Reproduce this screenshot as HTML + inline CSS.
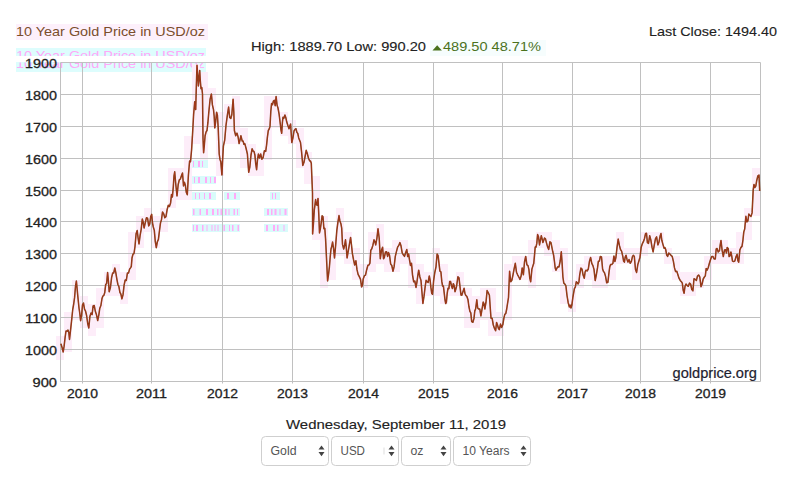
<!DOCTYPE html>
<html><head><meta charset="utf-8"><title>10 Year Gold Price in USD/oz</title>
<style>html,body{margin:0;padding:0;background:#fff;width:795px;height:479px;overflow:hidden}
svg{display:block;font-family:"Liberation Sans",sans-serif}</style></head>
<body><svg width="795" height="479" viewBox="0 0 795 479" font-family="Liberation Sans, sans-serif"><defs><clipPath id="gc1"><rect x="0" y="48" width="300" height="8"/></clipPath><clipPath id="gc2"><rect x="0" y="62.5" width="300" height="8"/></clipPath></defs>
<rect x="16" y="48" width="190" height="8" fill="#ddfdfd"/>
<rect x="16" y="62" width="190" height="10" fill="#ddfdfd"/>
<g clip-path="url(#gc1)"><text x="16" y="59.6" font-size="13" fill="#ffa8f8" textLength="189" lengthAdjust="spacingAndGlyphs">10 Year Gold Price in USD/oz</text></g>
<g clip-path="url(#gc2)"><text x="16" y="68.2" font-size="13" fill="#ffa8f8" textLength="189" lengthAdjust="spacingAndGlyphs">10 Year Gold Price in USD/oz</text></g>
<path d="M56 336h8v8h-8zM56 344h8v8h-8zM56 352h8v8h-8zM64 312h8v8h-8zM64 320h8v8h-8zM64 328h8v8h-8zM64 336h8v8h-8zM64 344h8v8h-8zM72 280h8v8h-8zM72 288h8v8h-8zM72 296h8v8h-8zM72 304h8v8h-8zM72 312h8v8h-8zM80 296h8v8h-8zM80 304h8v8h-8zM80 312h8v8h-8zM80 320h8v8h-8zM88 304h8v8h-8zM88 312h8v8h-8zM88 320h8v8h-8zM88 328h8v8h-8zM96 288h8v8h-8zM96 296h8v8h-8zM96 304h8v8h-8zM96 312h8v8h-8zM96 320h8v8h-8zM104 272h8v8h-8zM104 280h8v8h-8zM104 288h8v8h-8zM112 264h8v8h-8zM112 272h8v8h-8zM112 280h8v8h-8zM112 288h8v8h-8zM120 272h8v8h-8zM120 280h8v8h-8zM120 288h8v8h-8zM120 296h8v8h-8zM128 232h8v8h-8zM128 240h8v8h-8zM128 248h8v8h-8zM128 256h8v8h-8zM128 264h8v8h-8zM128 272h8v8h-8zM136 216h8v8h-8zM136 224h8v8h-8zM136 232h8v8h-8zM136 240h8v8h-8zM144 208h8v8h-8zM144 216h8v8h-8zM144 224h8v8h-8zM152 216h8v8h-8zM152 224h8v8h-8zM152 232h8v8h-8zM152 240h8v8h-8zM160 208h8v8h-8zM160 216h8v8h-8zM160 224h8v8h-8zM168 168h8v8h-8zM168 176h8v8h-8zM168 184h8v8h-8zM168 192h8v8h-8zM168 200h8v8h-8zM176 168h8v8h-8zM176 176h8v8h-8zM176 184h8v8h-8zM176 192h8v8h-8zM184 136h8v8h-8zM184 144h8v8h-8zM184 152h8v8h-8zM184 160h8v8h-8zM184 168h8v8h-8zM184 176h8v8h-8zM184 184h8v8h-8zM184 192h8v8h-8zM192 64h8v8h-8zM192 72h8v8h-8zM192 80h8v8h-8zM192 88h8v8h-8zM192 96h8v8h-8zM192 104h8v8h-8zM192 112h8v8h-8zM192 120h8v8h-8zM192 128h8v8h-8zM192 136h8v8h-8zM200 72h8v8h-8zM200 80h8v8h-8zM200 88h8v8h-8zM200 96h8v8h-8zM200 104h8v8h-8zM200 112h8v8h-8zM200 120h8v8h-8zM200 128h8v8h-8zM200 136h8v8h-8zM200 144h8v8h-8zM200 152h8v8h-8zM208 88h8v8h-8zM208 96h8v8h-8zM208 104h8v8h-8zM208 112h8v8h-8zM208 120h8v8h-8zM216 112h8v8h-8zM216 120h8v8h-8zM216 128h8v8h-8zM216 136h8v8h-8zM216 144h8v8h-8zM216 152h8v8h-8zM216 160h8v8h-8zM216 168h8v8h-8zM224 104h8v8h-8zM224 112h8v8h-8zM224 120h8v8h-8zM224 128h8v8h-8zM224 136h8v8h-8zM232 96h8v8h-8zM232 104h8v8h-8zM232 112h8v8h-8zM232 120h8v8h-8zM232 128h8v8h-8zM232 136h8v8h-8zM240 128h8v8h-8zM240 136h8v8h-8zM240 144h8v8h-8zM240 152h8v8h-8zM240 160h8v8h-8zM248 144h8v8h-8zM248 152h8v8h-8zM248 160h8v8h-8zM248 168h8v8h-8zM256 152h8v8h-8zM256 160h8v8h-8zM256 168h8v8h-8zM264 96h8v8h-8zM264 104h8v8h-8zM264 112h8v8h-8zM264 120h8v8h-8zM264 128h8v8h-8zM264 136h8v8h-8zM264 144h8v8h-8zM264 152h8v8h-8zM272 96h8v8h-8zM272 104h8v8h-8zM272 112h8v8h-8zM272 120h8v8h-8zM280 112h8v8h-8zM280 120h8v8h-8zM280 128h8v8h-8zM288 120h8v8h-8zM288 128h8v8h-8zM288 136h8v8h-8zM296 128h8v8h-8zM296 136h8v8h-8zM296 144h8v8h-8zM296 152h8v8h-8zM296 160h8v8h-8zM304 152h8v8h-8zM304 160h8v8h-8zM304 168h8v8h-8zM304 176h8v8h-8zM312 176h8v8h-8zM312 184h8v8h-8zM312 192h8v8h-8zM312 200h8v8h-8zM312 208h8v8h-8zM312 216h8v8h-8zM312 224h8v8h-8zM312 232h8v8h-8zM320 216h8v8h-8zM320 224h8v8h-8zM320 232h8v8h-8zM320 240h8v8h-8zM320 248h8v8h-8zM320 256h8v8h-8zM320 264h8v8h-8zM320 272h8v8h-8zM320 280h8v8h-8zM328 240h8v8h-8zM328 248h8v8h-8zM328 256h8v8h-8zM328 264h8v8h-8zM328 272h8v8h-8zM336 208h8v8h-8zM336 216h8v8h-8zM336 224h8v8h-8zM336 232h8v8h-8zM336 240h8v8h-8zM336 248h8v8h-8zM344 232h8v8h-8zM344 240h8v8h-8zM344 248h8v8h-8zM344 256h8v8h-8zM352 248h8v8h-8zM352 256h8v8h-8zM352 264h8v8h-8zM352 272h8v8h-8zM360 264h8v8h-8zM360 272h8v8h-8zM360 280h8v8h-8zM368 232h8v8h-8zM368 240h8v8h-8zM368 248h8v8h-8zM368 256h8v8h-8zM368 264h8v8h-8zM376 224h8v8h-8zM376 232h8v8h-8zM376 240h8v8h-8zM376 248h8v8h-8zM376 256h8v8h-8zM384 248h8v8h-8zM384 256h8v8h-8zM384 264h8v8h-8zM392 240h8v8h-8zM392 248h8v8h-8zM392 256h8v8h-8zM392 264h8v8h-8zM400 240h8v8h-8zM400 248h8v8h-8zM400 256h8v8h-8zM408 248h8v8h-8zM408 256h8v8h-8zM408 264h8v8h-8zM408 272h8v8h-8zM408 280h8v8h-8zM416 264h8v8h-8zM416 272h8v8h-8zM416 280h8v8h-8zM416 288h8v8h-8zM416 296h8v8h-8zM424 272h8v8h-8zM424 280h8v8h-8zM424 288h8v8h-8zM432 248h8v8h-8zM432 256h8v8h-8zM432 264h8v8h-8zM432 272h8v8h-8zM432 280h8v8h-8zM432 288h8v8h-8zM440 264h8v8h-8zM440 272h8v8h-8zM440 280h8v8h-8zM440 288h8v8h-8zM440 296h8v8h-8zM448 280h8v8h-8zM448 288h8v8h-8zM456 272h8v8h-8zM456 280h8v8h-8zM456 288h8v8h-8zM464 288h8v8h-8zM464 296h8v8h-8zM464 304h8v8h-8zM464 312h8v8h-8zM464 320h8v8h-8zM472 296h8v8h-8zM472 304h8v8h-8zM472 312h8v8h-8zM472 320h8v8h-8zM480 288h8v8h-8zM480 296h8v8h-8zM480 304h8v8h-8zM480 312h8v8h-8zM488 288h8v8h-8zM488 296h8v8h-8zM488 304h8v8h-8zM488 312h8v8h-8zM488 320h8v8h-8zM488 328h8v8h-8zM496 312h8v8h-8zM496 320h8v8h-8zM496 328h8v8h-8zM504 264h8v8h-8zM504 272h8v8h-8zM504 280h8v8h-8zM504 288h8v8h-8zM504 296h8v8h-8zM504 304h8v8h-8zM504 312h8v8h-8zM512 256h8v8h-8zM512 264h8v8h-8zM512 272h8v8h-8zM520 256h8v8h-8zM520 264h8v8h-8zM520 272h8v8h-8zM528 240h8v8h-8zM528 248h8v8h-8zM528 256h8v8h-8zM528 264h8v8h-8zM528 272h8v8h-8zM528 280h8v8h-8zM536 232h8v8h-8zM536 240h8v8h-8zM544 232h8v8h-8zM544 240h8v8h-8zM544 248h8v8h-8zM552 240h8v8h-8zM552 248h8v8h-8zM552 256h8v8h-8zM552 264h8v8h-8zM560 248h8v8h-8zM560 256h8v8h-8zM560 264h8v8h-8zM560 272h8v8h-8zM560 280h8v8h-8zM560 288h8v8h-8zM560 296h8v8h-8zM568 280h8v8h-8zM568 288h8v8h-8zM568 296h8v8h-8zM568 304h8v8h-8zM576 264h8v8h-8zM576 272h8v8h-8zM576 280h8v8h-8zM584 256h8v8h-8zM584 264h8v8h-8zM584 272h8v8h-8zM592 256h8v8h-8zM592 264h8v8h-8zM592 272h8v8h-8zM592 280h8v8h-8zM600 256h8v8h-8zM600 264h8v8h-8zM600 272h8v8h-8zM600 280h8v8h-8zM608 256h8v8h-8zM608 264h8v8h-8zM608 272h8v8h-8zM616 232h8v8h-8zM616 240h8v8h-8zM616 248h8v8h-8zM616 256h8v8h-8zM624 248h8v8h-8zM624 256h8v8h-8zM632 248h8v8h-8zM632 256h8v8h-8zM632 264h8v8h-8zM632 272h8v8h-8zM640 232h8v8h-8zM640 240h8v8h-8zM640 248h8v8h-8zM648 232h8v8h-8zM648 240h8v8h-8zM656 232h8v8h-8zM656 240h8v8h-8zM664 248h8v8h-8zM664 256h8v8h-8zM672 256h8v8h-8zM672 264h8v8h-8zM672 272h8v8h-8zM680 272h8v8h-8zM680 280h8v8h-8zM680 288h8v8h-8zM688 272h8v8h-8zM688 280h8v8h-8zM688 288h8v8h-8zM696 272h8v8h-8zM696 280h8v8h-8zM704 256h8v8h-8zM704 264h8v8h-8zM704 272h8v8h-8zM712 240h8v8h-8zM712 248h8v8h-8zM712 256h8v8h-8zM720 240h8v8h-8zM720 248h8v8h-8zM720 256h8v8h-8zM728 248h8v8h-8zM728 256h8v8h-8zM736 232h8v8h-8zM736 240h8v8h-8zM736 248h8v8h-8zM736 256h8v8h-8zM744 208h8v8h-8zM744 216h8v8h-8zM744 224h8v8h-8zM744 232h8v8h-8zM752 168h8v8h-8zM752 176h8v8h-8zM752 184h8v8h-8zM752 192h8v8h-8zM752 200h8v8h-8zM752 208h8v8h-8z" fill="#fdedf9"/>
<rect x="16" y="24" width="192" height="16" fill="#fdf0fb"/>
<rect x="192" y="160" width="16" height="8" fill="#d9fbfb"/>
<path d="M193 161h1v6h-1zM198 161h2v6h-2zM202 161h1v6h-1z" fill="#ffaaf7"/>
<rect x="192" y="176" width="24" height="8" fill="#d9fbfb"/>
<path d="M194 177h1v6h-1zM198 177h2v6h-2zM205 177h2v6h-2zM210 177h1v6h-1zM214 177h2v6h-2z" fill="#ffaaf7"/>
<rect x="192" y="192" width="24" height="8" fill="#d9fbfb"/>
<path d="M195 193h1v6h-1zM199 193h1v6h-1zM204 193h1v6h-1zM209 193h2v6h-2z" fill="#ffaaf7"/>
<rect x="224" y="192" width="16" height="8" fill="#d9fbfb"/>
<path d="M227 193h2v6h-2zM234 193h2v6h-2z" fill="#ffaaf7"/>
<rect x="270" y="192" width="10" height="8" fill="#d9fbfb"/>
<path d="M272 193h1v6h-1zM275 193h1v6h-1z" fill="#ffaaf7"/>
<rect x="192" y="208" width="48" height="8" fill="#d9fbfb"/>
<path d="M193 209h1.5v6h-1.5zM199.5 209h1.5v6h-1.5zM206.0 209h2v6h-2zM212.0 209h2v6h-2zM217.0 209h1.5v6h-1.5zM220.5 209h1.5v6h-1.5zM225.0 209h1.5v6h-1.5zM228.5 209h1v6h-1zM233.5 209h1.5v6h-1.5zM237.0 209h1v6h-1z" fill="#ffaaf7"/>
<rect x="264" y="208" width="24" height="8" fill="#d9fbfb"/>
<path d="M267 209h2v6h-2zM271 209h1.5v6h-1.5zM274.5 209h2v6h-2zM279.5 209h1v6h-1zM284.5 209h2v6h-2z" fill="#ffaaf7"/>
<rect x="192" y="224" width="48" height="8" fill="#d9fbfb"/>
<path d="M193 225h1v6h-1zM196 225h2v6h-2zM202 225h1.5v6h-1.5zM206.5 225h1v6h-1zM211.5 225h1v6h-1zM214.5 225h1v6h-1zM217.5 225h1v6h-1zM223.5 225h1.5v6h-1.5zM229.0 225h1v6h-1zM232.0 225h1.5v6h-1.5zM237.5 225h1.5v6h-1.5z" fill="#ffaaf7"/>
<rect x="264" y="224" width="24" height="8" fill="#d9fbfb"/>
<path d="M266 225h2v6h-2zM273 225h2v6h-2zM277 225h1.5v6h-1.5zM283.5 225h1v6h-1z" fill="#ffaaf7"/>
<path d="M60.5 62.5H760.5 M60.5 94.5H760.5 M60.5 126.5H760.5 M60.5 158.5H760.5 M60.5 190.5H760.5 M60.5 221.5H760.5 M60.5 253.5H760.5 M60.5 285.5H760.5 M60.5 317.5H760.5 M60.5 349.5H760.5 M60.5 381.5H760.5 M82.5 62.5V383.5 M151.5 62.5V383.5 M222.5 62.5V383.5 M292.5 62.5V383.5 M363.5 62.5V383.5 M433.5 62.5V383.5 M502.5 62.5V383.5 M572.5 62.5V383.5 M640.5 62.5V383.5 M710.5 62.5V383.5 M60.5 62.5V381.5 M760.5 62.5V381.5" stroke="#c0c0c0" stroke-width="1" fill="none"/>
<path d="M60.9 343.7 L62.0 347.2 L63.2 352.0 L64.1 346.2 L65.1 337.5 L66.0 331.0 L67.0 331.3 L68.0 330.0 L68.8 332.5 L69.5 339.5 L70.5 330.6 L71.6 320.7 L72.7 309.7 L73.7 304.0 L74.6 297.4 L75.5 286.2 L76.4 281.0 L77.7 295.1 L79.0 308.0 L79.8 313.4 L80.6 320.7 L81.6 315.2 L82.5 304.9 L83.5 303.0 L84.5 309.1 L85.5 311.0 L86.6 315.5 L87.7 323.5 L88.8 328.0 L89.9 316.4 L91.0 313.0 L92.1 314.7 L93.1 305.9 L94.2 305.5 L95.4 311.6 L96.5 314.8 L97.7 320.5 L98.8 315.1 L99.8 308.2 L100.9 305.5 L102.0 298.5 L102.9 295.9 L103.8 295.6 L104.7 292.8 L105.7 284.5 L106.6 283.5 L107.6 272.6 L108.4 280.9 L109.2 291.8 L110.4 287.6 L111.6 277.6 L112.7 272.9 L113.7 273.0 L114.8 268.0 L115.8 272.7 L116.9 279.3 L117.9 284.5 L118.9 286.6 L119.9 292.3 L120.9 294.2 L121.9 298.9 L123.0 294.9 L124.1 285.1 L125.2 280.0 L126.3 280.5 L127.4 273.1 L128.5 273.1 L129.6 269.1 L130.7 267.6 L131.3 266.4 L132.0 258.0 L133.0 254.1 L134.0 253.5 L135.0 246.5 L136.1 233.7 L137.2 230.5 L138.1 238.0 L139.0 244.0 L140.1 235.4 L141.2 229.3 L142.3 219.0 L143.2 222.3 L144.1 228.0 L145.2 223.0 L146.4 217.8 L147.6 218.3 L148.7 225.9 L149.7 224.1 L150.7 216.6 L151.7 214.4 L152.5 223.0 L153.3 227.0 L154.3 230.4 L155.3 241.7 L156.3 247.7 L157.4 241.7 L158.4 239.4 L159.5 230.5 L160.5 222.9 L161.5 219.6 L162.5 212.0 L163.7 213.8 L164.8 217.8 L165.9 216.8 L167.1 209.8 L168.3 205.2 L169.4 206.5 L170.6 202.9 L171.5 194.4 L172.4 197.0 L173.3 186.8 L174.0 175.8 L174.7 171.8 L175.8 184.5 L177.0 196.0 L178.2 184.5 L179.3 179.9 L180.4 179.0 L181.6 175.3 L182.5 173.0 L183.5 185.9 L184.4 182.2 L185.4 185.5 L186.3 192.3 L187.3 194.7 L188.4 175.2 L189.6 161.0 L190.5 161.8 L191.6 149.7 L192.6 133.0 L193.6 114.8 L194.7 101.8 L195.7 109.6 L196.3 87.8 L197.0 65.2 L197.7 75.0 L198.4 86.0 L199.7 70.4 L200.3 80.6 L201.0 88.7 L201.8 87.5 L202.5 94.0 L203.0 138.3 L203.6 152.7 L204.3 145.7 L205.1 135.7 L206.1 131.9 L207.0 130.5 L207.9 122.7 L208.8 112.2 L210.1 99.3 L211.4 94.0 L212.4 104.9 L213.5 109.6 L214.2 116.5 L214.8 127.9 L215.7 121.3 L216.6 112.2 L217.4 115.3 L218.2 127.9 L219.2 154.0 L220.0 159.4 L220.8 161.8 L221.9 174.9 L222.7 158.5 L223.4 146.2 L224.7 140.1 L226.0 125.3 L227.3 115.7 L228.6 107.0 L229.7 117.4 L230.8 118.5 L231.8 114.8 L233.1 99.2 L233.8 111.7 L234.4 130.5 L235.7 135.7 L237.0 133.1 L238.1 137.0 L239.1 143.6 L240.0 140.0 L240.9 135.7 L242.2 141.0 L243.1 141.1 L243.9 144.3 L244.8 143.6 L246.1 148.5 L247.4 154.0 L248.7 172.3 L249.8 167.2 L251.0 155.0 L252.1 148.8 L253.1 151.1 L254.0 151.4 L254.9 155.0 L255.7 163.7 L256.6 169.7 L257.5 159.7 L258.4 154.0 L259.5 158.0 L260.7 153.9 L261.8 159.2 L263.1 157.7 L264.4 150.7 L265.7 151.4 L266.6 144.8 L267.4 137.1 L268.3 130.5 L269.1 129.2 L270.0 126.4 L270.8 111.5 L271.6 103.4 L272.5 104.7 L273.4 101.0 L274.3 100.3 L275.2 105.7 L276.1 96.5 L277.1 105.3 L278.0 108.0 L279.1 114.1 L280.3 124.0 L281.0 130.2 L281.7 133.3 L282.4 122.5 L283.0 117.2 L283.9 118.1 L284.9 114.9 L285.8 117.5 L286.7 121.8 L287.9 125.6 L289.0 128.7 L289.8 126.0 L290.6 124.0 L291.8 142.5 L292.9 138.1 L294.0 131.0 L295.0 129.4 L296.0 128.7 L296.9 132.4 L297.8 133.5 L298.7 137.9 L299.6 140.2 L300.5 142.5 L301.6 152.2 L302.8 165.5 L304.0 162.3 L305.1 156.3 L306.2 150.3 L307.4 154.0 L308.5 158.2 L309.7 160.9 L310.5 161.0 L311.3 163.2 L312.5 193.0 L312.6 234.0 L313.5 222.8 L314.3 209.9 L315.0 204.7 L315.6 199.5 L316.4 204.6 L317.2 205.3 L318.0 198.4 L318.8 214.8 L319.5 232.9 L320.3 229.2 L321.1 223.7 L322.1 215.8 L323.0 216.8 L323.9 228.7 L324.8 228.3 L325.6 239.4 L326.4 255.9 L327.6 281.0 L328.5 274.6 L329.4 267.0 L330.2 257.0 L331.0 249.0 L331.8 246.1 L332.6 242.0 L333.6 249.0 L334.5 258.0 L335.6 245.9 L336.8 230.6 L337.9 222.4 L339.0 215.6 L339.9 220.9 L340.9 223.7 L341.7 228.2 L342.5 244.4 L343.7 249.0 L344.6 245.3 L345.5 239.8 L346.3 247.6 L347.1 258.0 L348.2 251.4 L349.4 244.4 L350.6 237.5 L351.5 245.0 L352.4 253.6 L353.5 259.5 L354.7 265.0 L355.9 260.8 L357.0 269.7 L358.1 274.3 L359.3 276.6 L360.5 279.3 L361.6 286.9 L362.4 285.7 L363.2 278.9 L364.4 275.7 L365.5 275.1 L366.7 269.7 L367.9 265.3 L369.0 265.0 L369.9 263.2 L370.8 250.2 L371.7 249.0 L372.9 245.2 L374.0 239.8 L374.9 241.5 L375.7 244.9 L376.9 238.3 L378.0 228.8 L379.2 238.0 L380.3 258.7 L381.5 250.3 L382.6 247.2 L383.5 258.8 L384.3 257.5 L385.5 252.0 L386.6 251.8 L387.6 256.4 L388.5 252.4 L389.5 255.2 L390.7 264.1 L391.8 265.5 L393.0 271.3 L394.1 266.7 L395.3 256.4 L396.5 251.4 L397.6 247.2 L398.8 245.4 L399.9 242.6 L401.0 245.8 L402.2 252.9 L403.4 255.0 L404.5 256.4 L405.6 252.7 L406.8 249.5 L407.7 256.6 L408.6 253.9 L409.5 259.8 L410.5 265.5 L411.5 263.2 L412.5 274.8 L413.7 281.8 L414.8 281.0 L416.0 287.4 L416.9 282.3 L417.8 275.6 L418.7 270.2 L419.9 277.0 L421.0 280.5 L421.9 291.5 L422.9 303.5 L424.0 296.4 L425.2 286.3 L426.1 280.3 L427.0 281.7 L428.1 282.5 L429.3 276.0 L430.1 280.2 L430.9 287.4 L431.7 293.2 L432.5 294.3 L433.6 280.9 L434.8 272.5 L436.0 266.8 L437.1 254.0 L438.1 255.6 L439.0 263.3 L439.9 271.1 L440.9 271.8 L441.8 281.4 L442.6 286.0 L443.4 286.0 L444.2 292.9 L445.0 299.8 L445.7 303.6 L446.4 302.0 L447.2 293.3 L448.0 288.3 L448.9 288.7 L449.7 281.4 L450.6 281.6 L451.5 286.0 L452.4 288.6 L453.3 283.7 L454.1 285.3 L455.0 291.7 L455.8 289.3 L456.6 286.0 L457.9 276.8 L459.0 277.8 L460.2 288.3 L461.0 295.1 L461.8 295.2 L463.0 291.5 L464.1 288.3 L464.9 293.2 L465.7 295.2 L466.9 296.5 L468.0 299.8 L468.9 306.5 L469.9 311.3 L470.8 312.9 L471.7 321.6 L472.9 322.3 L474.0 318.2 L474.8 310.9 L475.6 309.0 L476.8 299.8 L477.7 308.0 L478.6 309.0 L479.8 309.0 L480.9 315.9 L482.0 309.4 L483.2 302.0 L484.0 303.7 L484.8 309.0 L486.0 302.2 L487.1 290.6 L488.2 292.6 L489.4 295.2 L490.2 307.0 L491.0 318.2 L492.1 318.2 L493.3 325.0 L494.5 328.5 L495.6 330.8 L496.6 322.4 L497.5 325.0 L498.4 328.3 L499.3 329.7 L500.5 324.1 L501.6 327.4 L502.8 324.8 L503.9 318.2 L504.8 314.4 L505.8 313.5 L506.7 309.0 L507.6 303.2 L508.5 297.5 L509.6 271.3 L510.7 281.7 L511.9 280.2 L513.0 274.8 L514.1 268.9 L515.3 263.3 L516.5 272.2 L517.6 274.8 L518.8 277.0 L520.0 279.4 L521.1 276.1 L522.2 267.9 L523.4 274.8 L524.5 262.0 L525.7 256.4 L526.9 264.9 L528.0 265.6 L528.9 269.4 L529.8 278.4 L530.7 281.7 L531.9 269.1 L533.0 265.6 L533.7 263.6 L534.4 256.4 L535.2 247.1 L536.0 247.2 L536.8 243.4 L537.6 234.5 L538.5 236.7 L539.5 244.9 L540.4 240.3 L541.3 235.7 L542.1 238.7 L542.9 242.6 L543.7 240.4 L544.5 238.0 L545.5 238.9 L546.4 242.6 L547.5 246.6 L548.7 249.5 L549.9 241.8 L551.0 242.6 L551.9 247.3 L552.8 251.8 L553.6 255.1 L554.4 261.0 L555.2 268.0 L556.0 270.2 L557.0 268.0 L557.9 266.7 L559.0 266.9 L560.2 261.0 L561.3 251.8 L562.1 263.1 L562.9 277.0 L563.8 283.1 L564.8 284.0 L565.9 285.8 L567.0 295.5 L568.2 302.7 L569.4 307.0 L570.2 305.1 L571.0 308.0 L571.9 304.8 L572.8 297.8 L573.6 293.2 L574.4 288.6 L575.3 287.1 L576.3 281.7 L577.2 282.5 L578.1 284.0 L578.9 282.2 L579.7 274.8 L580.9 268.1 L582.0 269.0 L583.1 275.1 L584.3 278.2 L585.1 272.0 L586.0 270.2 L587.1 271.0 L588.3 269.0 L589.5 261.1 L590.6 257.5 L591.8 263.4 L592.9 265.6 L594.0 269.4 L595.2 280.5 L596.4 274.5 L597.5 267.9 L598.4 261.2 L599.4 261.1 L600.3 256.4 L601.5 257.0 L602.6 269.0 L603.5 271.5 L604.4 272.5 L605.5 276.1 L606.7 282.8 L607.9 282.3 L609.0 272.5 L609.8 266.7 L610.6 264.4 L611.8 264.5 L612.9 263.3 L613.9 256.0 L614.9 261.5 L615.9 257.5 L617.0 247.6 L618.2 239.1 L619.4 245.4 L620.5 249.5 L621.6 251.1 L622.8 256.4 L623.6 261.0 L624.4 262.1 L625.2 257.1 L626.0 255.2 L627.0 259.4 L627.9 262.1 L629.0 259.5 L630.2 263.3 L631.4 261.4 L632.5 256.4 L633.4 255.3 L634.3 256.4 L635.5 269.5 L636.6 272.5 L637.8 264.6 L638.9 261.0 L640.0 257.2 L641.2 247.2 L642.4 243.6 L643.5 241.4 L644.5 238.5 L645.6 233.4 L646.5 233.3 L647.4 242.6 L648.5 243.4 L649.7 235.7 L650.9 240.3 L652.0 247.2 L653.1 251.9 L654.3 244.9 L655.5 238.6 L656.6 236.8 L657.9 244.9 L659.0 242.0 L660.2 235.7 L661.0 233.5 L661.8 240.3 L663.0 244.6 L664.1 248.3 L664.9 247.6 L665.7 249.5 L666.7 255.1 L667.6 256.4 L668.8 253.0 L669.9 254.0 L671.0 255.4 L672.2 256.4 L673.4 261.4 L674.5 267.9 L675.6 271.6 L676.8 271.3 L677.9 274.7 L679.0 278.2 L680.2 280.4 L681.4 281.7 L682.3 283.1 L683.2 290.2 L684.1 293.2 L685.0 286.5 L686.0 284.0 L687.1 285.4 L688.3 286.3 L689.5 283.1 L690.6 284.0 L691.8 289.5 L692.9 290.9 L694.0 278.7 L695.2 279.4 L696.4 280.4 L697.5 276.0 L698.6 275.0 L699.8 277.0 L701.0 286.7 L702.1 284.0 L703.2 279.0 L704.4 277.0 L705.3 275.9 L706.2 268.4 L707.1 270.2 L708.2 267.8 L709.4 263.3 L710.5 259.7 L711.7 256.4 L713.0 256.6 L714.1 259.0 L715.3 258.9 L716.2 249.0 L717.1 248.5 L718.2 252.1 L719.4 250.8 L720.2 244.9 L721.0 240.5 L722.1 250.2 L723.3 256.6 L724.5 250.0 L725.6 249.7 L726.4 252.9 L727.2 247.4 L728.2 248.6 L729.1 256.6 L730.0 255.9 L730.9 252.0 L731.7 255.9 L732.5 261.1 L733.6 261.5 L734.8 261.1 L736.0 256.7 L737.1 254.3 L737.9 260.6 L738.7 262.3 L739.9 249.8 L741.0 247.4 L742.0 246.4 L742.9 240.5 L743.8 231.9 L744.7 229.0 L745.9 216.3 L746.9 221.9 L747.9 221.0 L748.8 214.0 L749.8 215.2 L751.0 216.4 L752.1 212.9 L753.2 189.9 L754.0 184.4 L754.8 187.6 L755.8 186.1 L756.7 180.7 L757.9 175.8 L759.0 175.0 L759.7 191.0" stroke="#f9e3f3" stroke-width="9" fill="none" stroke-linejoin="round" opacity="0.0"/>
<path d="M60.9 343.7 L62.0 347.2 L63.2 352.0 L64.1 346.2 L65.1 337.5 L66.0 331.0 L67.0 331.3 L68.0 330.0 L68.8 332.5 L69.5 339.5 L70.5 330.6 L71.6 320.7 L72.7 309.7 L73.7 304.0 L74.6 297.4 L75.5 286.2 L76.4 281.0 L77.7 295.1 L79.0 308.0 L79.8 313.4 L80.6 320.7 L81.6 315.2 L82.5 304.9 L83.5 303.0 L84.5 309.1 L85.5 311.0 L86.6 315.5 L87.7 323.5 L88.8 328.0 L89.9 316.4 L91.0 313.0 L92.1 314.7 L93.1 305.9 L94.2 305.5 L95.4 311.6 L96.5 314.8 L97.7 320.5 L98.8 315.1 L99.8 308.2 L100.9 305.5 L102.0 298.5 L102.9 295.9 L103.8 295.6 L104.7 292.8 L105.7 284.5 L106.6 283.5 L107.6 272.6 L108.4 280.9 L109.2 291.8 L110.4 287.6 L111.6 277.6 L112.7 272.9 L113.7 273.0 L114.8 268.0 L115.8 272.7 L116.9 279.3 L117.9 284.5 L118.9 286.6 L119.9 292.3 L120.9 294.2 L121.9 298.9 L123.0 294.9 L124.1 285.1 L125.2 280.0 L126.3 280.5 L127.4 273.1 L128.5 273.1 L129.6 269.1 L130.7 267.6 L131.3 266.4 L132.0 258.0 L133.0 254.1 L134.0 253.5 L135.0 246.5 L136.1 233.7 L137.2 230.5 L138.1 238.0 L139.0 244.0 L140.1 235.4 L141.2 229.3 L142.3 219.0 L143.2 222.3 L144.1 228.0 L145.2 223.0 L146.4 217.8 L147.6 218.3 L148.7 225.9 L149.7 224.1 L150.7 216.6 L151.7 214.4 L152.5 223.0 L153.3 227.0 L154.3 230.4 L155.3 241.7 L156.3 247.7 L157.4 241.7 L158.4 239.4 L159.5 230.5 L160.5 222.9 L161.5 219.6 L162.5 212.0 L163.7 213.8 L164.8 217.8 L165.9 216.8 L167.1 209.8 L168.3 205.2 L169.4 206.5 L170.6 202.9 L171.5 194.4 L172.4 197.0 L173.3 186.8 L174.0 175.8 L174.7 171.8 L175.8 184.5 L177.0 196.0 L178.2 184.5 L179.3 179.9 L180.4 179.0 L181.6 175.3 L182.5 173.0 L183.5 185.9 L184.4 182.2 L185.4 185.5 L186.3 192.3 L187.3 194.7 L188.4 175.2 L189.6 161.0 L190.5 161.8 L191.6 149.7 L192.6 133.0 L193.6 114.8 L194.7 101.8 L195.7 109.6 L196.3 87.8 L197.0 65.2 L197.7 75.0 L198.4 86.0 L199.7 70.4 L200.3 80.6 L201.0 88.7 L201.8 87.5 L202.5 94.0 L203.0 138.3 L203.6 152.7 L204.3 145.7 L205.1 135.7 L206.1 131.9 L207.0 130.5 L207.9 122.7 L208.8 112.2 L210.1 99.3 L211.4 94.0 L212.4 104.9 L213.5 109.6 L214.2 116.5 L214.8 127.9 L215.7 121.3 L216.6 112.2 L217.4 115.3 L218.2 127.9 L219.2 154.0 L220.0 159.4 L220.8 161.8 L221.9 174.9 L222.7 158.5 L223.4 146.2 L224.7 140.1 L226.0 125.3 L227.3 115.7 L228.6 107.0 L229.7 117.4 L230.8 118.5 L231.8 114.8 L233.1 99.2 L233.8 111.7 L234.4 130.5 L235.7 135.7 L237.0 133.1 L238.1 137.0 L239.1 143.6 L240.0 140.0 L240.9 135.7 L242.2 141.0 L243.1 141.1 L243.9 144.3 L244.8 143.6 L246.1 148.5 L247.4 154.0 L248.7 172.3 L249.8 167.2 L251.0 155.0 L252.1 148.8 L253.1 151.1 L254.0 151.4 L254.9 155.0 L255.7 163.7 L256.6 169.7 L257.5 159.7 L258.4 154.0 L259.5 158.0 L260.7 153.9 L261.8 159.2 L263.1 157.7 L264.4 150.7 L265.7 151.4 L266.6 144.8 L267.4 137.1 L268.3 130.5 L269.1 129.2 L270.0 126.4 L270.8 111.5 L271.6 103.4 L272.5 104.7 L273.4 101.0 L274.3 100.3 L275.2 105.7 L276.1 96.5 L277.1 105.3 L278.0 108.0 L279.1 114.1 L280.3 124.0 L281.0 130.2 L281.7 133.3 L282.4 122.5 L283.0 117.2 L283.9 118.1 L284.9 114.9 L285.8 117.5 L286.7 121.8 L287.9 125.6 L289.0 128.7 L289.8 126.0 L290.6 124.0 L291.8 142.5 L292.9 138.1 L294.0 131.0 L295.0 129.4 L296.0 128.7 L296.9 132.4 L297.8 133.5 L298.7 137.9 L299.6 140.2 L300.5 142.5 L301.6 152.2 L302.8 165.5 L304.0 162.3 L305.1 156.3 L306.2 150.3 L307.4 154.0 L308.5 158.2 L309.7 160.9 L310.5 161.0 L311.3 163.2 L312.5 193.0 L312.6 234.0 L313.5 222.8 L314.3 209.9 L315.0 204.7 L315.6 199.5 L316.4 204.6 L317.2 205.3 L318.0 198.4 L318.8 214.8 L319.5 232.9 L320.3 229.2 L321.1 223.7 L322.1 215.8 L323.0 216.8 L323.9 228.7 L324.8 228.3 L325.6 239.4 L326.4 255.9 L327.6 281.0 L328.5 274.6 L329.4 267.0 L330.2 257.0 L331.0 249.0 L331.8 246.1 L332.6 242.0 L333.6 249.0 L334.5 258.0 L335.6 245.9 L336.8 230.6 L337.9 222.4 L339.0 215.6 L339.9 220.9 L340.9 223.7 L341.7 228.2 L342.5 244.4 L343.7 249.0 L344.6 245.3 L345.5 239.8 L346.3 247.6 L347.1 258.0 L348.2 251.4 L349.4 244.4 L350.6 237.5 L351.5 245.0 L352.4 253.6 L353.5 259.5 L354.7 265.0 L355.9 260.8 L357.0 269.7 L358.1 274.3 L359.3 276.6 L360.5 279.3 L361.6 286.9 L362.4 285.7 L363.2 278.9 L364.4 275.7 L365.5 275.1 L366.7 269.7 L367.9 265.3 L369.0 265.0 L369.9 263.2 L370.8 250.2 L371.7 249.0 L372.9 245.2 L374.0 239.8 L374.9 241.5 L375.7 244.9 L376.9 238.3 L378.0 228.8 L379.2 238.0 L380.3 258.7 L381.5 250.3 L382.6 247.2 L383.5 258.8 L384.3 257.5 L385.5 252.0 L386.6 251.8 L387.6 256.4 L388.5 252.4 L389.5 255.2 L390.7 264.1 L391.8 265.5 L393.0 271.3 L394.1 266.7 L395.3 256.4 L396.5 251.4 L397.6 247.2 L398.8 245.4 L399.9 242.6 L401.0 245.8 L402.2 252.9 L403.4 255.0 L404.5 256.4 L405.6 252.7 L406.8 249.5 L407.7 256.6 L408.6 253.9 L409.5 259.8 L410.5 265.5 L411.5 263.2 L412.5 274.8 L413.7 281.8 L414.8 281.0 L416.0 287.4 L416.9 282.3 L417.8 275.6 L418.7 270.2 L419.9 277.0 L421.0 280.5 L421.9 291.5 L422.9 303.5 L424.0 296.4 L425.2 286.3 L426.1 280.3 L427.0 281.7 L428.1 282.5 L429.3 276.0 L430.1 280.2 L430.9 287.4 L431.7 293.2 L432.5 294.3 L433.6 280.9 L434.8 272.5 L436.0 266.8 L437.1 254.0 L438.1 255.6 L439.0 263.3 L439.9 271.1 L440.9 271.8 L441.8 281.4 L442.6 286.0 L443.4 286.0 L444.2 292.9 L445.0 299.8 L445.7 303.6 L446.4 302.0 L447.2 293.3 L448.0 288.3 L448.9 288.7 L449.7 281.4 L450.6 281.6 L451.5 286.0 L452.4 288.6 L453.3 283.7 L454.1 285.3 L455.0 291.7 L455.8 289.3 L456.6 286.0 L457.9 276.8 L459.0 277.8 L460.2 288.3 L461.0 295.1 L461.8 295.2 L463.0 291.5 L464.1 288.3 L464.9 293.2 L465.7 295.2 L466.9 296.5 L468.0 299.8 L468.9 306.5 L469.9 311.3 L470.8 312.9 L471.7 321.6 L472.9 322.3 L474.0 318.2 L474.8 310.9 L475.6 309.0 L476.8 299.8 L477.7 308.0 L478.6 309.0 L479.8 309.0 L480.9 315.9 L482.0 309.4 L483.2 302.0 L484.0 303.7 L484.8 309.0 L486.0 302.2 L487.1 290.6 L488.2 292.6 L489.4 295.2 L490.2 307.0 L491.0 318.2 L492.1 318.2 L493.3 325.0 L494.5 328.5 L495.6 330.8 L496.6 322.4 L497.5 325.0 L498.4 328.3 L499.3 329.7 L500.5 324.1 L501.6 327.4 L502.8 324.8 L503.9 318.2 L504.8 314.4 L505.8 313.5 L506.7 309.0 L507.6 303.2 L508.5 297.5 L509.6 271.3 L510.7 281.7 L511.9 280.2 L513.0 274.8 L514.1 268.9 L515.3 263.3 L516.5 272.2 L517.6 274.8 L518.8 277.0 L520.0 279.4 L521.1 276.1 L522.2 267.9 L523.4 274.8 L524.5 262.0 L525.7 256.4 L526.9 264.9 L528.0 265.6 L528.9 269.4 L529.8 278.4 L530.7 281.7 L531.9 269.1 L533.0 265.6 L533.7 263.6 L534.4 256.4 L535.2 247.1 L536.0 247.2 L536.8 243.4 L537.6 234.5 L538.5 236.7 L539.5 244.9 L540.4 240.3 L541.3 235.7 L542.1 238.7 L542.9 242.6 L543.7 240.4 L544.5 238.0 L545.5 238.9 L546.4 242.6 L547.5 246.6 L548.7 249.5 L549.9 241.8 L551.0 242.6 L551.9 247.3 L552.8 251.8 L553.6 255.1 L554.4 261.0 L555.2 268.0 L556.0 270.2 L557.0 268.0 L557.9 266.7 L559.0 266.9 L560.2 261.0 L561.3 251.8 L562.1 263.1 L562.9 277.0 L563.8 283.1 L564.8 284.0 L565.9 285.8 L567.0 295.5 L568.2 302.7 L569.4 307.0 L570.2 305.1 L571.0 308.0 L571.9 304.8 L572.8 297.8 L573.6 293.2 L574.4 288.6 L575.3 287.1 L576.3 281.7 L577.2 282.5 L578.1 284.0 L578.9 282.2 L579.7 274.8 L580.9 268.1 L582.0 269.0 L583.1 275.1 L584.3 278.2 L585.1 272.0 L586.0 270.2 L587.1 271.0 L588.3 269.0 L589.5 261.1 L590.6 257.5 L591.8 263.4 L592.9 265.6 L594.0 269.4 L595.2 280.5 L596.4 274.5 L597.5 267.9 L598.4 261.2 L599.4 261.1 L600.3 256.4 L601.5 257.0 L602.6 269.0 L603.5 271.5 L604.4 272.5 L605.5 276.1 L606.7 282.8 L607.9 282.3 L609.0 272.5 L609.8 266.7 L610.6 264.4 L611.8 264.5 L612.9 263.3 L613.9 256.0 L614.9 261.5 L615.9 257.5 L617.0 247.6 L618.2 239.1 L619.4 245.4 L620.5 249.5 L621.6 251.1 L622.8 256.4 L623.6 261.0 L624.4 262.1 L625.2 257.1 L626.0 255.2 L627.0 259.4 L627.9 262.1 L629.0 259.5 L630.2 263.3 L631.4 261.4 L632.5 256.4 L633.4 255.3 L634.3 256.4 L635.5 269.5 L636.6 272.5 L637.8 264.6 L638.9 261.0 L640.0 257.2 L641.2 247.2 L642.4 243.6 L643.5 241.4 L644.5 238.5 L645.6 233.4 L646.5 233.3 L647.4 242.6 L648.5 243.4 L649.7 235.7 L650.9 240.3 L652.0 247.2 L653.1 251.9 L654.3 244.9 L655.5 238.6 L656.6 236.8 L657.9 244.9 L659.0 242.0 L660.2 235.7 L661.0 233.5 L661.8 240.3 L663.0 244.6 L664.1 248.3 L664.9 247.6 L665.7 249.5 L666.7 255.1 L667.6 256.4 L668.8 253.0 L669.9 254.0 L671.0 255.4 L672.2 256.4 L673.4 261.4 L674.5 267.9 L675.6 271.6 L676.8 271.3 L677.9 274.7 L679.0 278.2 L680.2 280.4 L681.4 281.7 L682.3 283.1 L683.2 290.2 L684.1 293.2 L685.0 286.5 L686.0 284.0 L687.1 285.4 L688.3 286.3 L689.5 283.1 L690.6 284.0 L691.8 289.5 L692.9 290.9 L694.0 278.7 L695.2 279.4 L696.4 280.4 L697.5 276.0 L698.6 275.0 L699.8 277.0 L701.0 286.7 L702.1 284.0 L703.2 279.0 L704.4 277.0 L705.3 275.9 L706.2 268.4 L707.1 270.2 L708.2 267.8 L709.4 263.3 L710.5 259.7 L711.7 256.4 L713.0 256.6 L714.1 259.0 L715.3 258.9 L716.2 249.0 L717.1 248.5 L718.2 252.1 L719.4 250.8 L720.2 244.9 L721.0 240.5 L722.1 250.2 L723.3 256.6 L724.5 250.0 L725.6 249.7 L726.4 252.9 L727.2 247.4 L728.2 248.6 L729.1 256.6 L730.0 255.9 L730.9 252.0 L731.7 255.9 L732.5 261.1 L733.6 261.5 L734.8 261.1 L736.0 256.7 L737.1 254.3 L737.9 260.6 L738.7 262.3 L739.9 249.8 L741.0 247.4 L742.0 246.4 L742.9 240.5 L743.8 231.9 L744.7 229.0 L745.9 216.3 L746.9 221.9 L747.9 221.0 L748.8 214.0 L749.8 215.2 L751.0 216.4 L752.1 212.9 L753.2 189.9 L754.0 184.4 L754.8 187.6 L755.8 186.1 L756.7 180.7 L757.9 175.8 L759.0 175.0 L759.7 191.0" stroke="#7e4019" stroke-width="1.5" fill="none" stroke-linejoin="round"/>
<path d="M60.9 343.7 L62.0 347.2 L63.2 352.0 L64.1 346.2 L65.1 337.5 L66.0 331.0 L67.0 331.3 L68.0 330.0 L68.8 332.5 L69.5 339.5 L70.5 330.6 L71.6 320.7 L72.7 309.7 L73.7 304.0 L74.6 297.4 L75.5 286.2 L76.4 281.0 L77.7 295.1 L79.0 308.0 L79.8 313.4 L80.6 320.7 L81.6 315.2 L82.5 304.9 L83.5 303.0 L84.5 309.1 L85.5 311.0 L86.6 315.5 L87.7 323.5 L88.8 328.0 L89.9 316.4 L91.0 313.0 L92.1 314.7 L93.1 305.9 L94.2 305.5 L95.4 311.6 L96.5 314.8 L97.7 320.5 L98.8 315.1 L99.8 308.2 L100.9 305.5 L102.0 298.5 L102.9 295.9 L103.8 295.6 L104.7 292.8 L105.7 284.5 L106.6 283.5 L107.6 272.6 L108.4 280.9 L109.2 291.8 L110.4 287.6 L111.6 277.6 L112.7 272.9 L113.7 273.0 L114.8 268.0 L115.8 272.7 L116.9 279.3 L117.9 284.5 L118.9 286.6 L119.9 292.3 L120.9 294.2 L121.9 298.9 L123.0 294.9 L124.1 285.1 L125.2 280.0 L126.3 280.5 L127.4 273.1 L128.5 273.1 L129.6 269.1 L130.7 267.6 L131.3 266.4 L132.0 258.0 L133.0 254.1 L134.0 253.5 L135.0 246.5 L136.1 233.7 L137.2 230.5 L138.1 238.0 L139.0 244.0 L140.1 235.4 L141.2 229.3 L142.3 219.0 L143.2 222.3 L144.1 228.0 L145.2 223.0 L146.4 217.8 L147.6 218.3 L148.7 225.9 L149.7 224.1 L150.7 216.6 L151.7 214.4 L152.5 223.0 L153.3 227.0 L154.3 230.4 L155.3 241.7 L156.3 247.7 L157.4 241.7 L158.4 239.4 L159.5 230.5 L160.5 222.9 L161.5 219.6 L162.5 212.0 L163.7 213.8 L164.8 217.8 L165.9 216.8 L167.1 209.8 L168.3 205.2 L169.4 206.5 L170.6 202.9 L171.5 194.4 L172.4 197.0 L173.3 186.8 L174.0 175.8 L174.7 171.8 L175.8 184.5 L177.0 196.0 L178.2 184.5 L179.3 179.9 L180.4 179.0 L181.6 175.3 L182.5 173.0 L183.5 185.9 L184.4 182.2 L185.4 185.5 L186.3 192.3 L187.3 194.7 L188.4 175.2 L189.6 161.0 L190.5 161.8 L191.6 149.7 L192.6 133.0 L193.6 114.8 L194.7 101.8 L195.7 109.6 L196.3 87.8 L197.0 65.2 L197.7 75.0 L198.4 86.0 L199.7 70.4 L200.3 80.6 L201.0 88.7 L201.8 87.5 L202.5 94.0 L203.0 138.3 L203.6 152.7 L204.3 145.7 L205.1 135.7 L206.1 131.9 L207.0 130.5 L207.9 122.7 L208.8 112.2 L210.1 99.3 L211.4 94.0 L212.4 104.9 L213.5 109.6 L214.2 116.5 L214.8 127.9 L215.7 121.3 L216.6 112.2 L217.4 115.3 L218.2 127.9 L219.2 154.0 L220.0 159.4 L220.8 161.8 L221.9 174.9 L222.7 158.5 L223.4 146.2 L224.7 140.1 L226.0 125.3 L227.3 115.7 L228.6 107.0 L229.7 117.4 L230.8 118.5 L231.8 114.8 L233.1 99.2 L233.8 111.7 L234.4 130.5 L235.7 135.7 L237.0 133.1 L238.1 137.0 L239.1 143.6 L240.0 140.0 L240.9 135.7 L242.2 141.0 L243.1 141.1 L243.9 144.3 L244.8 143.6 L246.1 148.5 L247.4 154.0 L248.7 172.3 L249.8 167.2 L251.0 155.0 L252.1 148.8 L253.1 151.1 L254.0 151.4 L254.9 155.0 L255.7 163.7 L256.6 169.7 L257.5 159.7 L258.4 154.0 L259.5 158.0 L260.7 153.9 L261.8 159.2 L263.1 157.7 L264.4 150.7 L265.7 151.4 L266.6 144.8 L267.4 137.1 L268.3 130.5 L269.1 129.2 L270.0 126.4 L270.8 111.5 L271.6 103.4 L272.5 104.7 L273.4 101.0 L274.3 100.3 L275.2 105.7 L276.1 96.5 L277.1 105.3 L278.0 108.0 L279.1 114.1 L280.3 124.0 L281.0 130.2 L281.7 133.3 L282.4 122.5 L283.0 117.2 L283.9 118.1 L284.9 114.9 L285.8 117.5 L286.7 121.8 L287.9 125.6 L289.0 128.7 L289.8 126.0 L290.6 124.0 L291.8 142.5 L292.9 138.1 L294.0 131.0 L295.0 129.4 L296.0 128.7 L296.9 132.4 L297.8 133.5 L298.7 137.9 L299.6 140.2 L300.5 142.5 L301.6 152.2 L302.8 165.5 L304.0 162.3 L305.1 156.3 L306.2 150.3 L307.4 154.0 L308.5 158.2 L309.7 160.9 L310.5 161.0 L311.3 163.2 L312.5 193.0 L312.6 234.0 L313.5 222.8 L314.3 209.9 L315.0 204.7 L315.6 199.5 L316.4 204.6 L317.2 205.3 L318.0 198.4 L318.8 214.8 L319.5 232.9 L320.3 229.2 L321.1 223.7 L322.1 215.8 L323.0 216.8 L323.9 228.7 L324.8 228.3 L325.6 239.4 L326.4 255.9 L327.6 281.0 L328.5 274.6 L329.4 267.0 L330.2 257.0 L331.0 249.0 L331.8 246.1 L332.6 242.0 L333.6 249.0 L334.5 258.0 L335.6 245.9 L336.8 230.6 L337.9 222.4 L339.0 215.6 L339.9 220.9 L340.9 223.7 L341.7 228.2 L342.5 244.4 L343.7 249.0 L344.6 245.3 L345.5 239.8 L346.3 247.6 L347.1 258.0 L348.2 251.4 L349.4 244.4 L350.6 237.5 L351.5 245.0 L352.4 253.6 L353.5 259.5 L354.7 265.0 L355.9 260.8 L357.0 269.7 L358.1 274.3 L359.3 276.6 L360.5 279.3 L361.6 286.9 L362.4 285.7 L363.2 278.9 L364.4 275.7 L365.5 275.1 L366.7 269.7 L367.9 265.3 L369.0 265.0 L369.9 263.2 L370.8 250.2 L371.7 249.0 L372.9 245.2 L374.0 239.8 L374.9 241.5 L375.7 244.9 L376.9 238.3 L378.0 228.8 L379.2 238.0 L380.3 258.7 L381.5 250.3 L382.6 247.2 L383.5 258.8 L384.3 257.5 L385.5 252.0 L386.6 251.8 L387.6 256.4 L388.5 252.4 L389.5 255.2 L390.7 264.1 L391.8 265.5 L393.0 271.3 L394.1 266.7 L395.3 256.4 L396.5 251.4 L397.6 247.2 L398.8 245.4 L399.9 242.6 L401.0 245.8 L402.2 252.9 L403.4 255.0 L404.5 256.4 L405.6 252.7 L406.8 249.5 L407.7 256.6 L408.6 253.9 L409.5 259.8 L410.5 265.5 L411.5 263.2 L412.5 274.8 L413.7 281.8 L414.8 281.0 L416.0 287.4 L416.9 282.3 L417.8 275.6 L418.7 270.2 L419.9 277.0 L421.0 280.5 L421.9 291.5 L422.9 303.5 L424.0 296.4 L425.2 286.3 L426.1 280.3 L427.0 281.7 L428.1 282.5 L429.3 276.0 L430.1 280.2 L430.9 287.4 L431.7 293.2 L432.5 294.3 L433.6 280.9 L434.8 272.5 L436.0 266.8 L437.1 254.0 L438.1 255.6 L439.0 263.3 L439.9 271.1 L440.9 271.8 L441.8 281.4 L442.6 286.0 L443.4 286.0 L444.2 292.9 L445.0 299.8 L445.7 303.6 L446.4 302.0 L447.2 293.3 L448.0 288.3 L448.9 288.7 L449.7 281.4 L450.6 281.6 L451.5 286.0 L452.4 288.6 L453.3 283.7 L454.1 285.3 L455.0 291.7 L455.8 289.3 L456.6 286.0 L457.9 276.8 L459.0 277.8 L460.2 288.3 L461.0 295.1 L461.8 295.2 L463.0 291.5 L464.1 288.3 L464.9 293.2 L465.7 295.2 L466.9 296.5 L468.0 299.8 L468.9 306.5 L469.9 311.3 L470.8 312.9 L471.7 321.6 L472.9 322.3 L474.0 318.2 L474.8 310.9 L475.6 309.0 L476.8 299.8 L477.7 308.0 L478.6 309.0 L479.8 309.0 L480.9 315.9 L482.0 309.4 L483.2 302.0 L484.0 303.7 L484.8 309.0 L486.0 302.2 L487.1 290.6 L488.2 292.6 L489.4 295.2 L490.2 307.0 L491.0 318.2 L492.1 318.2 L493.3 325.0 L494.5 328.5 L495.6 330.8 L496.6 322.4 L497.5 325.0 L498.4 328.3 L499.3 329.7 L500.5 324.1 L501.6 327.4 L502.8 324.8 L503.9 318.2 L504.8 314.4 L505.8 313.5 L506.7 309.0 L507.6 303.2 L508.5 297.5 L509.6 271.3 L510.7 281.7 L511.9 280.2 L513.0 274.8 L514.1 268.9 L515.3 263.3 L516.5 272.2 L517.6 274.8 L518.8 277.0 L520.0 279.4 L521.1 276.1 L522.2 267.9 L523.4 274.8 L524.5 262.0 L525.7 256.4 L526.9 264.9 L528.0 265.6 L528.9 269.4 L529.8 278.4 L530.7 281.7 L531.9 269.1 L533.0 265.6 L533.7 263.6 L534.4 256.4 L535.2 247.1 L536.0 247.2 L536.8 243.4 L537.6 234.5 L538.5 236.7 L539.5 244.9 L540.4 240.3 L541.3 235.7 L542.1 238.7 L542.9 242.6 L543.7 240.4 L544.5 238.0 L545.5 238.9 L546.4 242.6 L547.5 246.6 L548.7 249.5 L549.9 241.8 L551.0 242.6 L551.9 247.3 L552.8 251.8 L553.6 255.1 L554.4 261.0 L555.2 268.0 L556.0 270.2 L557.0 268.0 L557.9 266.7 L559.0 266.9 L560.2 261.0 L561.3 251.8 L562.1 263.1 L562.9 277.0 L563.8 283.1 L564.8 284.0 L565.9 285.8 L567.0 295.5 L568.2 302.7 L569.4 307.0 L570.2 305.1 L571.0 308.0 L571.9 304.8 L572.8 297.8 L573.6 293.2 L574.4 288.6 L575.3 287.1 L576.3 281.7 L577.2 282.5 L578.1 284.0 L578.9 282.2 L579.7 274.8 L580.9 268.1 L582.0 269.0 L583.1 275.1 L584.3 278.2 L585.1 272.0 L586.0 270.2 L587.1 271.0 L588.3 269.0 L589.5 261.1 L590.6 257.5 L591.8 263.4 L592.9 265.6 L594.0 269.4 L595.2 280.5 L596.4 274.5 L597.5 267.9 L598.4 261.2 L599.4 261.1 L600.3 256.4 L601.5 257.0 L602.6 269.0 L603.5 271.5 L604.4 272.5 L605.5 276.1 L606.7 282.8 L607.9 282.3 L609.0 272.5 L609.8 266.7 L610.6 264.4 L611.8 264.5 L612.9 263.3 L613.9 256.0 L614.9 261.5 L615.9 257.5 L617.0 247.6 L618.2 239.1 L619.4 245.4 L620.5 249.5 L621.6 251.1 L622.8 256.4 L623.6 261.0 L624.4 262.1 L625.2 257.1 L626.0 255.2 L627.0 259.4 L627.9 262.1 L629.0 259.5 L630.2 263.3 L631.4 261.4 L632.5 256.4 L633.4 255.3 L634.3 256.4 L635.5 269.5 L636.6 272.5 L637.8 264.6 L638.9 261.0 L640.0 257.2 L641.2 247.2 L642.4 243.6 L643.5 241.4 L644.5 238.5 L645.6 233.4 L646.5 233.3 L647.4 242.6 L648.5 243.4 L649.7 235.7 L650.9 240.3 L652.0 247.2 L653.1 251.9 L654.3 244.9 L655.5 238.6 L656.6 236.8 L657.9 244.9 L659.0 242.0 L660.2 235.7 L661.0 233.5 L661.8 240.3 L663.0 244.6 L664.1 248.3 L664.9 247.6 L665.7 249.5 L666.7 255.1 L667.6 256.4 L668.8 253.0 L669.9 254.0 L671.0 255.4 L672.2 256.4 L673.4 261.4 L674.5 267.9 L675.6 271.6 L676.8 271.3 L677.9 274.7 L679.0 278.2 L680.2 280.4 L681.4 281.7 L682.3 283.1 L683.2 290.2 L684.1 293.2 L685.0 286.5 L686.0 284.0 L687.1 285.4 L688.3 286.3 L689.5 283.1 L690.6 284.0 L691.8 289.5 L692.9 290.9 L694.0 278.7 L695.2 279.4 L696.4 280.4 L697.5 276.0 L698.6 275.0 L699.8 277.0 L701.0 286.7 L702.1 284.0 L703.2 279.0 L704.4 277.0 L705.3 275.9 L706.2 268.4 L707.1 270.2 L708.2 267.8 L709.4 263.3 L710.5 259.7 L711.7 256.4 L713.0 256.6 L714.1 259.0 L715.3 258.9 L716.2 249.0 L717.1 248.5 L718.2 252.1 L719.4 250.8 L720.2 244.9 L721.0 240.5 L722.1 250.2 L723.3 256.6 L724.5 250.0 L725.6 249.7 L726.4 252.9 L727.2 247.4 L728.2 248.6 L729.1 256.6 L730.0 255.9 L730.9 252.0 L731.7 255.9 L732.5 261.1 L733.6 261.5 L734.8 261.1 L736.0 256.7 L737.1 254.3 L737.9 260.6 L738.7 262.3 L739.9 249.8 L741.0 247.4 L742.0 246.4 L742.9 240.5 L743.8 231.9 L744.7 229.0 L745.9 216.3 L746.9 221.9 L747.9 221.0 L748.8 214.0 L749.8 215.2 L751.0 216.4 L752.1 212.9 L753.2 189.9 L754.0 184.4 L754.8 187.6 L755.8 186.1 L756.7 180.7 L757.9 175.8 L759.0 175.0 L759.7 191.0" stroke="#c42c1a" stroke-width="0.8" fill="none" stroke-linejoin="round" opacity="0.55"/>
<text x="16" y="36" font-size="13" fill="#7a4e2c" textLength="189" lengthAdjust="spacingAndGlyphs">10 Year Gold Price in USD/oz</text>
<text x="649" y="36" font-size="13" fill="#222" textLength="128" lengthAdjust="spacingAndGlyphs" stroke="#222" stroke-width="0.12">Last Close: 1494.40</text>
<text x="251" y="51" font-size="13" fill="#222" textLength="175" lengthAdjust="spacingAndGlyphs" stroke="#222" stroke-width="0.12">High: 1889.70 Low: 990.20</text>
<rect x="430" y="40" width="116" height="16" fill="#f6fdfd"/>
<path d="M432.5 50.5 L437.2 45.2 L441.9 50.5 Z" fill="#4a721d"/>
<text x="443" y="51" font-size="13" fill="#4a721d" textLength="98" lengthAdjust="spacingAndGlyphs">489.50 48.71%</text>
<text x="25" y="68" font-size="13" fill="#222" textLength="32" lengthAdjust="spacingAndGlyphs" stroke="#222" stroke-width="0.3">1900</text>
<text x="25" y="100" font-size="13" fill="#222" textLength="32" lengthAdjust="spacingAndGlyphs" stroke="#222" stroke-width="0.3">1800</text>
<text x="25" y="132" font-size="13" fill="#222" textLength="32" lengthAdjust="spacingAndGlyphs" stroke="#222" stroke-width="0.3">1700</text>
<text x="25" y="164" font-size="13" fill="#222" textLength="32" lengthAdjust="spacingAndGlyphs" stroke="#222" stroke-width="0.3">1600</text>
<text x="25" y="196" font-size="13" fill="#222" textLength="32" lengthAdjust="spacingAndGlyphs" stroke="#222" stroke-width="0.3">1500</text>
<text x="25" y="227" font-size="13" fill="#222" textLength="32" lengthAdjust="spacingAndGlyphs" stroke="#222" stroke-width="0.3">1400</text>
<text x="25" y="259" font-size="13" fill="#222" textLength="32" lengthAdjust="spacingAndGlyphs" stroke="#222" stroke-width="0.3">1300</text>
<text x="25" y="291" font-size="13" fill="#222" textLength="32" lengthAdjust="spacingAndGlyphs" stroke="#222" stroke-width="0.3">1200</text>
<text x="25" y="323" font-size="13" fill="#222" textLength="32" lengthAdjust="spacingAndGlyphs" stroke="#222" stroke-width="0.3">1100</text>
<text x="25" y="355" font-size="13" fill="#222" textLength="32" lengthAdjust="spacingAndGlyphs" stroke="#222" stroke-width="0.3">1000</text>
<text x="32.5" y="387" font-size="13" fill="#222" textLength="24.5" lengthAdjust="spacingAndGlyphs" stroke="#222" stroke-width="0.3">900</text>
<text x="67.0" y="398" font-size="13" fill="#222" textLength="31" lengthAdjust="spacingAndGlyphs" stroke="#222" stroke-width="0.3">2010</text>
<text x="136.0" y="398" font-size="13" fill="#222" textLength="31" lengthAdjust="spacingAndGlyphs" stroke="#222" stroke-width="0.3">2011</text>
<text x="207.0" y="398" font-size="13" fill="#222" textLength="31" lengthAdjust="spacingAndGlyphs" stroke="#222" stroke-width="0.3">2012</text>
<text x="277.0" y="398" font-size="13" fill="#222" textLength="31" lengthAdjust="spacingAndGlyphs" stroke="#222" stroke-width="0.3">2013</text>
<text x="348.0" y="398" font-size="13" fill="#222" textLength="31" lengthAdjust="spacingAndGlyphs" stroke="#222" stroke-width="0.3">2014</text>
<text x="418.0" y="398" font-size="13" fill="#222" textLength="31" lengthAdjust="spacingAndGlyphs" stroke="#222" stroke-width="0.3">2015</text>
<text x="487.0" y="398" font-size="13" fill="#222" textLength="31" lengthAdjust="spacingAndGlyphs" stroke="#222" stroke-width="0.3">2016</text>
<text x="557.0" y="398" font-size="13" fill="#222" textLength="31" lengthAdjust="spacingAndGlyphs" stroke="#222" stroke-width="0.3">2017</text>
<text x="625.0" y="398" font-size="13" fill="#222" textLength="31" lengthAdjust="spacingAndGlyphs" stroke="#222" stroke-width="0.3">2018</text>
<text x="695.0" y="398" font-size="13" fill="#222" textLength="31" lengthAdjust="spacingAndGlyphs" stroke="#222" stroke-width="0.3">2019</text>
<text x="672.5" y="378" font-size="14.3" fill="#1e1e30" textLength="84.5" lengthAdjust="spacingAndGlyphs" stroke="#1e1e30" stroke-width="0.2">goldprice.org</text>
<text x="286" y="429" font-size="13" fill="#222" textLength="220" lengthAdjust="spacingAndGlyphs" stroke="#222" stroke-width="0.12">Wednesday, September 11, 2019</text>
<rect x="261.5" y="436.5" width="67" height="29" rx="4" ry="4" fill="#fff" stroke="#cfcfcf"/>
<text x="270.5" y="455" font-size="12.5" fill="#555" textLength="26" lengthAdjust="spacingAndGlyphs">Gold</text>
<path d="M318.5 449.6 L321.5 445.5 L324.5 449.6 Z M318.5 452 L321.5 456.2 L324.5 452 Z" fill="#444"/>
<rect x="331.5" y="436.5" width="67" height="29" rx="4" ry="4" fill="#fff" stroke="#cfcfcf"/>
<text x="340.5" y="455" font-size="12.5" fill="#555" textLength="24.5" lengthAdjust="spacingAndGlyphs">USD</text>
<path d="M388.5 449.6 L391.5 445.5 L394.5 449.6 Z M388.5 452 L391.5 456.2 L394.5 452 Z" fill="#444"/>
<rect x="401.5" y="436.5" width="49" height="29" rx="4" ry="4" fill="#fff" stroke="#cfcfcf"/>
<text x="410.5" y="455" font-size="12.5" fill="#555" textLength="13" lengthAdjust="spacingAndGlyphs">oz</text>
<path d="M440.5 449.6 L443.5 445.5 L446.5 449.6 Z M440.5 452 L443.5 456.2 L446.5 452 Z" fill="#444"/>
<rect x="453.5" y="436.5" width="77" height="29" rx="4" ry="4" fill="#fff" stroke="#cfcfcf"/>
<text x="462.5" y="455" font-size="12.5" fill="#555" textLength="47" lengthAdjust="spacingAndGlyphs">10 Years</text>
<path d="M520.5 449.6 L523.5 445.5 L526.5 449.6 Z M520.5 452 L523.5 456.2 L526.5 452 Z" fill="#444"/>
<path d="M384 447.5V454.5" stroke="#dddddd" stroke-width="1"/></svg></body></html>
